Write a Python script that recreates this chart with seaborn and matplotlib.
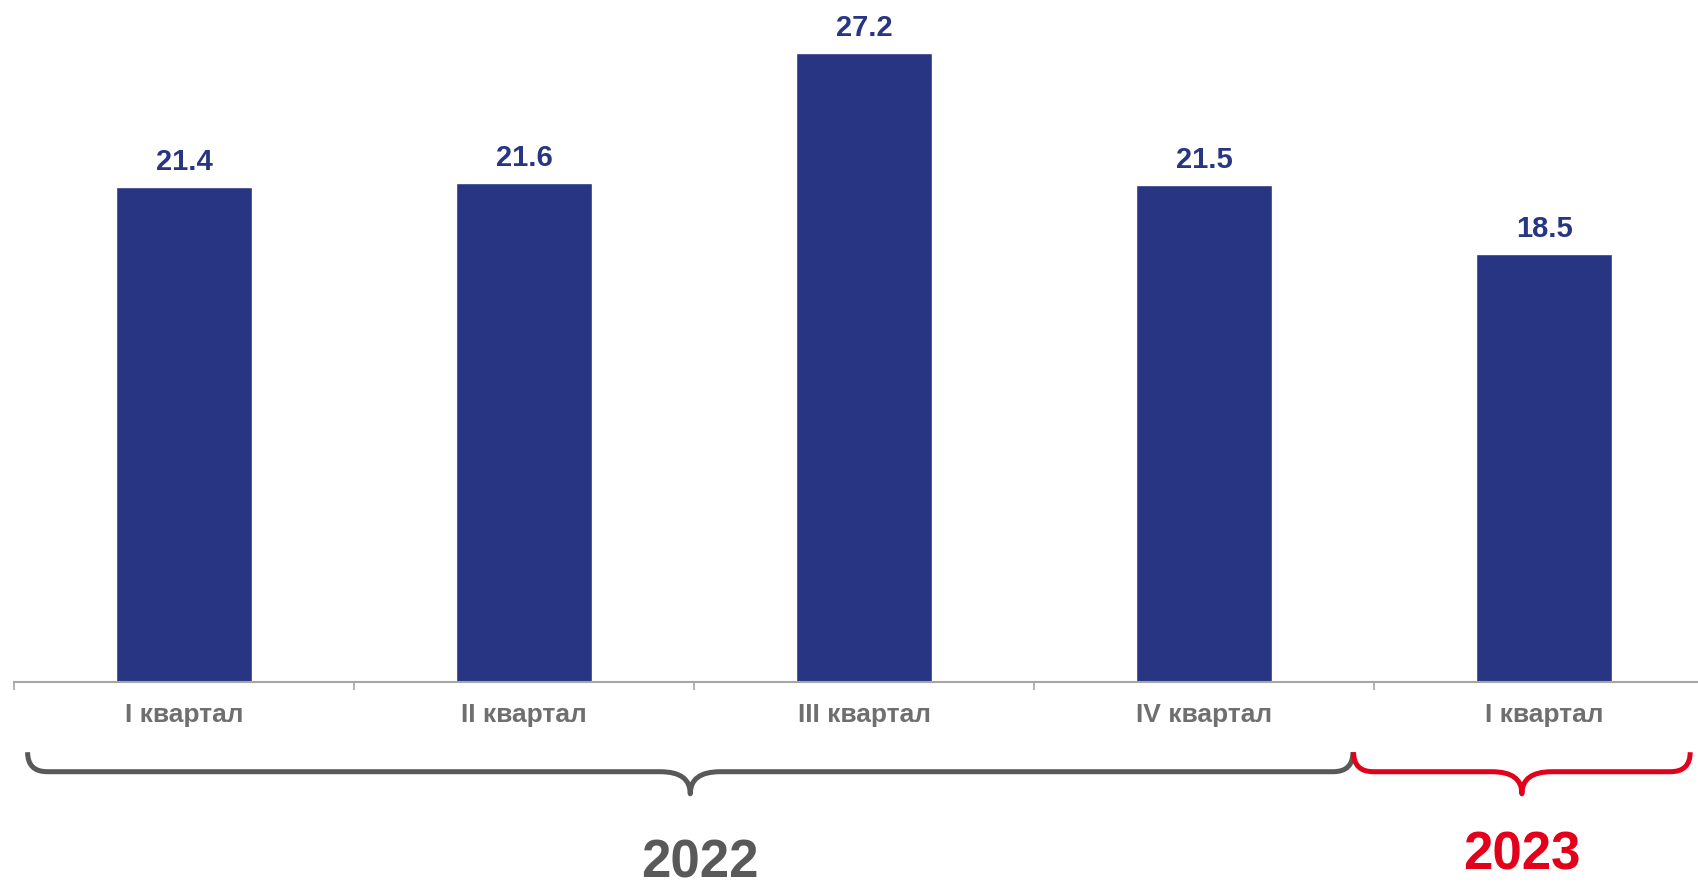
import matplotlib.pyplot as plt
import matplotlib.transforms as mtransforms
from matplotlib.path import Path
from matplotlib.patches import PathPatch
import seaborn as sns
import pandas as pd

# data
periods = ["2022 Q1", "2022 Q2", "2022 Q3", "2022 Q4", "2023 Q1"]
quarter_labels = ["I квартал", "II квартал", "III квартал", "IV квартал", "I квартал"]
values = [21.4, 21.6, 27.2, 21.5, 18.5]
years = ["2022", "2023"]

BAR_COLOR = "#283583"
TICK_COLOR = "#6f6f6f"
YEAR_COLORS = ["#595959", "#e2001a"]


def brace(ax, fig, x0, x1, color, y_end=0.151, y_line=0.129, y_tip=0.104, r_end=0.058, r_mid=0.088):
    trans = mtransforms.blended_transform_factory(ax.transData, fig.transFigure)
    xm = (x0 + x1) / 2
    verts = [
        (x0, y_end), (x0, y_line), (x0 + r_end, y_line),
        (xm - r_mid, y_line),
        (xm, y_line), (xm, y_tip),
        (xm, y_line), (xm + r_mid, y_line),
        (x1 - r_end, y_line),
        (x1, y_line), (x1, y_end),
    ]
    codes = [Path.MOVETO, Path.CURVE3, Path.CURVE3,
             Path.LINETO,
             Path.CURVE3, Path.CURVE3,
             Path.CURVE3, Path.CURVE3,
             Path.LINETO,
             Path.CURVE3, Path.CURVE3]
    patch = PathPatch(Path(verts, codes), transform=trans, facecolor="none",
                      edgecolor=color, lw=3.6, capstyle="butt", joinstyle="round",
                      clip_on=False)
    fig.add_artist(patch)
    return xm


df = pd.DataFrame({"period": periods, "value": values})

sns.set_theme(style="white")
plt.rcParams["font.family"] = ["Liberation Sans", "DejaVu Sans"]

fig = plt.figure(figsize=(16.98, 8.86), dpi=100)
ax = fig.add_axes([14 / 1698, 1 - 682 / 886, 1700 / 1698, 682 / 886])

sns.barplot(data=df, x="period", y="value", order=periods, color=BAR_COLOR,
            saturation=1, width=0.4, ax=ax)

ax.set_xlim(-0.5, len(periods) - 0.5)
ax.set_ylim(0, 29.5)
ax.set_xlabel("")
ax.set_ylabel("")
ax.set_yticks([])

ax.set_xticks(range(len(periods)))
ax.set_xticklabels(quarter_labels, fontsize=19, fontweight="bold", color=TICK_COLOR)
ax.set_xticks([i - 0.5 for i in range(len(periods) + 1)], minor=True)
ax.tick_params(axis="x", which="major", length=0, pad=15)
ax.tick_params(axis="x", which="minor", bottom=True, length=6, width=1.2,
               color="#a6a6a6", direction="out")

for side in ["top", "right", "left"]:
    ax.spines[side].set_visible(False)
ax.spines["bottom"].set_color("#a6a6a6")
ax.spines["bottom"].set_linewidth(1.5)

for i, v in enumerate(values):
    ax.annotate(f"{v:.1f}", (i, v), xytext=(0, 8), textcoords="offset points",
                ha="center", va="bottom", fontsize=21, fontweight="bold", color=BAR_COLOR)

# year braces: 2022 covers the first four quarters, 2023 the last one
trans = mtransforms.blended_transform_factory(ax.transData, fig.transFigure)
xm = brace(ax, fig, -0.46, 3.438, YEAR_COLORS[0])
ax.text(xm + 0.027, 0.025, years[0], transform=trans, ha="center", va="center",
        fontsize=38, fontweight="bold", color=YEAR_COLORS[0], clip_on=False)
xm = brace(ax, fig, 3.44, 4.43, YEAR_COLORS[1])
ax.text(xm, 0.034, years[1], transform=trans, ha="center", va="center",
        fontsize=38, fontweight="bold", color=YEAR_COLORS[1], clip_on=False)

fig.savefig("out.png", dpi=100)
